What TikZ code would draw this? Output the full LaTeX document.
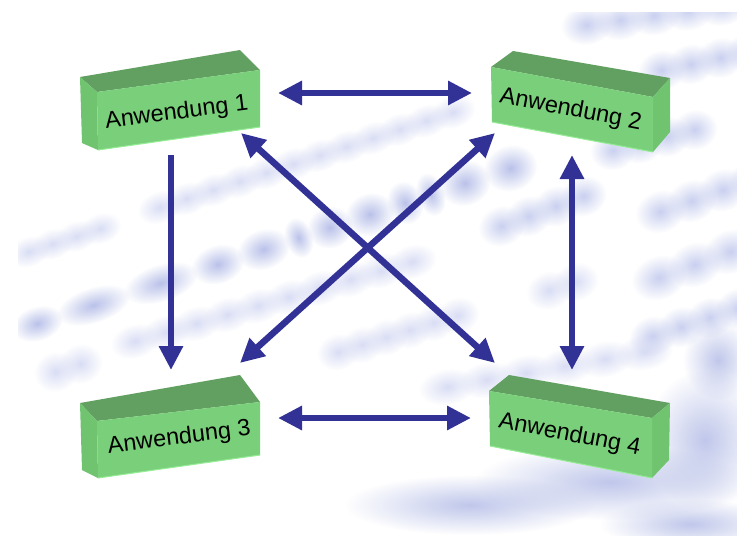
\documentclass[tikz,border=0pt]{standalone}
\usepackage{fontspec}
\setmainfont{Liberation Sans}
\usetikzlibrary{arrows.meta,fadings}
\definecolor{arrowblue}{RGB}{50,50,150}
\definecolor{frontgreen}{RGB}{122,208,122}
\definecolor{topgreen}{RGB}{98,160,98}
\definecolor{sidegreen}{RGB}{112,196,112}
\definecolor{edgegreen}{RGB}{150,236,150}
\definecolor{bgbold}{RGB}{168,178,228}
\definecolor{bgmid}{RGB}{188,196,236}
\definecolor{bglight}{RGB}{208,213,242}
\definecolor{bgblob}{RGB}{170,180,228}
\tikzfading[name=softblob, inner color=transparent!25, outer color=transparent!100]
\tikzfading[name=softletter, inner color=transparent!20, outer color=transparent!100]
\tikzset{
  frontface/.style={fill=frontgreen},
  topface/.style={fill=topgreen},
  sideface/.style={fill=sidegreen},
  bottomedge/.style={draw=edgegreen, line width=1pt},
  boxtext/.style={font=\fontsize{23.5}{28}\selectfont, anchor=base, inner sep=0pt, text=black},
  duplex/.style={draw=arrowblue, line width=6.5pt,
    {Triangle[length=24pt,width=23pt]}-{Triangle[length=24pt,width=23pt]}},
  simplex/.style={draw=arrowblue, line width=6.5pt, -{Triangle[length=24pt,width=23pt]}},
  blob/.style={fill=bgblob, path fading=softblob},
  boldblob/.style={fill=bgbold, path fading=softletter},
  midblob/.style={fill=bgmid, path fading=softletter},
  lightblob/.style={fill=bglight, path fading=softletter},
}
% soft smear along a blurred line of the photo:
% #1,#2 start of the line, #3 angle, #4 last lump start, #5 lump step, #6 lump height, #7 style
\newcommand\blobrow[7]{%
  \begin{scope}[transform canvas={shift={(#1,#2)}, rotate=#3}]
    \foreach \u in {0,#5,...,#4} {
      \fill[#7] ({\u+#5/2},{-#6/2}) ellipse ({#5/2+9} and {#6/2+5});
    }
  \end{scope}}
\begin{document}
\begin{tikzpicture}[x=1pt,y=-1pt]
\useasboundingbox (0,0) rectangle (737,536);
\fill[white] (0,0) rectangle (737,536);

% ---------- blurred background photo (no legible text) ----------
\begin{scope}
\clip (18,12) rectangle (737,536);
% cloudy areas
\fill[blob] (470,505) ellipse (125 and 30);
\fill[blob] (610,482) ellipse (135 and 38);
\fill[blob] (705,440) ellipse (60 and 70);
\fill[blob] (690,524) ellipse (90 and 25);
\fill[blob] (718,360) ellipse (35 and 40);
% bold headword line
\begin{scope}[transform canvas={shift={(20,345)}, rotate=17.5}]
  \foreach \c/\h in {23/20, 82/32, 153/32, 213/21, 261/21, 298/8, 331/17,
                     373/19, 410/12, 437/8, 473/20, 521/21} {
    \fill[boldblob] (\c,{-(15+\c*0.012)}) ellipse ({\h+6} and {17+\c*0.012});
  }
\end{scope}
% lighter lines of the dictionary entry
\blobrow{20}{265}{18}{75}{25}{20}{lightblob}
\blobrow{150}{222}{18}{308}{28}{22}{lightblob}
\blobrow{603}{168}{14}{84}{28}{30}{midblob}
\blobrow{48}{390}{18}{0}{26}{30}{lightblob}
\blobrow{123}{357}{16}{288}{32}{24}{lightblob}
\blobrow{493}{245}{20}{87}{29}{30}{midblob}
\blobrow{650}{232}{19}{99}{33}{32}{midblob}
\blobrow{330}{368}{17}{125}{25}{26}{lightblob}
\blobrow{540}{308}{18}{28}{28}{28}{lightblob}
\blobrow{647}{300}{20}{76}{38}{34}{midblob}
\blobrow{643}{355}{18}{90}{30}{30}{midblob}
\blobrow{572}{42}{8}{170}{34}{30}{midblob}
\blobrow{650}{88}{12}{90}{30}{30}{midblob}
\blobrow{430}{403}{10}{200}{40}{26}{lightblob}
\end{scope}

% ---------- box 1 ----------
\coordinate (b1f1) at (97,92);  \coordinate (b1f2) at (260,70);
\coordinate (b1f3) at (260,127); \coordinate (b1f4) at (98,150);
\coordinate (b1b1) at (80,77);  \coordinate (b1b2) at (240,50);
\coordinate (b1b4) at (82,143);
\fill[topface] (b1f1) -- (b1f2) -- (b1b2) -- (b1b1) -- cycle;
\fill[sideface] (b1b1) -- (b1f1) -- (b1f4) -- (b1b4) -- cycle;
\fill[frontface] (b1f1) -- (b1f2) -- (b1f3) -- (b1f4) -- cycle;
\draw[bottomedge] (b1f4) -- (b1f3);
\node[boxtext, rotate=7.3] (t1) at (177.5,119) {Anwendung 1};

% ---------- box 2 ----------
\coordinate (b2f1) at (491,67);  \coordinate (b2f2) at (653,97);
\coordinate (b2f3) at (653,152); \coordinate (b2f4) at (492,122);
\coordinate (b2b1) at (513,51);  \coordinate (b2b2) at (670,78);
\coordinate (b2b3) at (670,132);
\fill[topface] (b2f1) -- (b2f2) -- (b2b2) -- (b2b1) -- cycle;
\fill[sideface] (b2f2) -- (b2b2) -- (b2b3) -- (b2f3) -- cycle;
\fill[frontface] (b2f1) -- (b2f2) -- (b2f3) -- (b2f4) -- cycle;
\draw[bottomedge] (b2f4) -- (b2f3);
\node[boxtext, rotate=-10.8] (t2) at (569.5,116) {Anwendung 2};

% ---------- box 3 ----------
\coordinate (b3f1) at (97,421);  \coordinate (b3f2) at (260,402);
\coordinate (b3f3) at (260,455); \coordinate (b3f4) at (98,478);
\coordinate (b3b1) at (80,403);  \coordinate (b3b2) at (240,375);
\coordinate (b3b4) at (82,470);
\fill[topface] (b3f1) -- (b3f2) -- (b3b2) -- (b3b1) -- cycle;
\fill[sideface] (b3b1) -- (b3f1) -- (b3f4) -- (b3b4) -- cycle;
\fill[frontface] (b3f1) -- (b3f2) -- (b3f3) -- (b3f4) -- cycle;
\draw[bottomedge] (b3f4) -- (b3f3);
\node[boxtext, rotate=7.2] (t3) at (180,444) {Anwendung 3};

% ---------- box 4 ----------
\coordinate (b4f1) at (489,391);  \coordinate (b4f2) at (652,418);
\coordinate (b4f3) at (652,478);  \coordinate (b4f4) at (490,446);
\coordinate (b4b1) at (509,375);  \coordinate (b4b2) at (670,403);
\coordinate (b4b3) at (669,460);
\fill[topface] (b4f1) -- (b4f2) -- (b4b2) -- (b4b1) -- cycle;
\fill[sideface] (b4f2) -- (b4b2) -- (b4b3) -- (b4f3) -- cycle;
\fill[frontface] (b4f1) -- (b4f2) -- (b4f3) -- (b4f4) -- cycle;
\draw[bottomedge] (b4f4) -- (b4f3);
\node[boxtext, rotate=-10.8] (t4) at (568.5,441) {Anwendung 4};

% ---------- connector ends ----------
\coordinate (a12s) at (278,93);  \coordinate (a12e) at (472,93);
\coordinate (a34s) at (278,418); \coordinate (a34e) at (471,418);
\coordinate (a13s) at (171,155); \coordinate (a13e) at (171,370);
\coordinate (a24s) at (572,155); \coordinate (a24e) at (572,370);
\coordinate (a14s) at (241,133); \coordinate (a14e) at (495,363);
\coordinate (a23s) at (495,133); \coordinate (a23e) at (240,363);

\draw[duplex] (a12s) -- (a12e);
\draw[duplex] (a34s) -- (a34e);
\draw[simplex] (a13s) -- (a13e);
\draw[duplex] (a24s) -- (a24e);
\draw[duplex] (a14s) -- (a14e);
\draw[duplex] (a23s) -- (a23e);
\end{tikzpicture}
\end{document}
